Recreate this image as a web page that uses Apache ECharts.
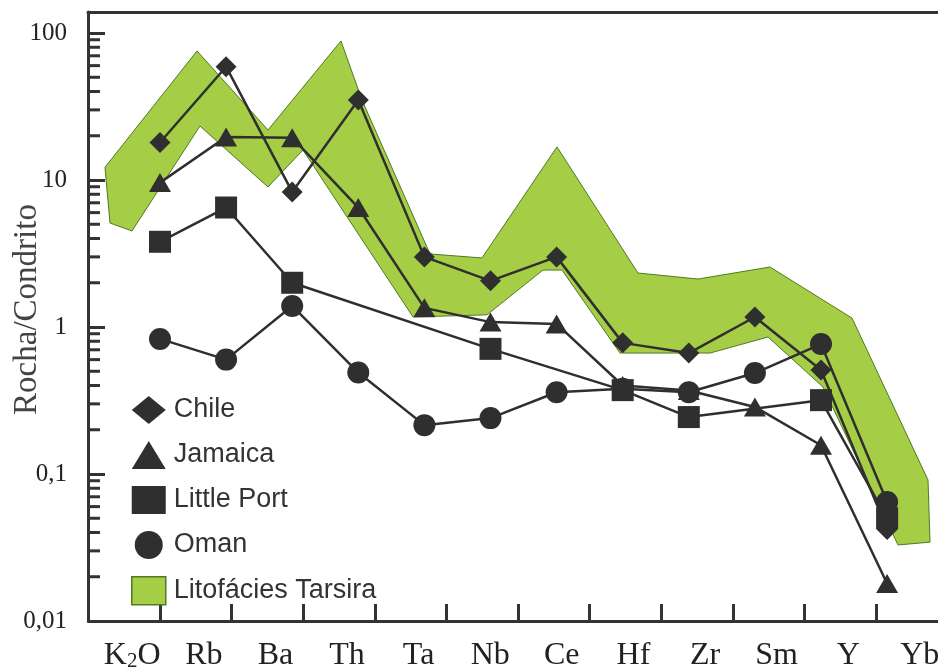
<!DOCTYPE html>
<html><head><meta charset="utf-8">
<script src="https://cdn.jsdelivr.net/npm/echarts@6/dist/echarts.min.js"></script>
<style>html,body{margin:0;padding:0;background:#fff}#c{width:938px;height:671px}</style>
</head><body><div id="c"></div>
<script>
// ---- data ----
const categories = ['K2O', 'Rb', 'Ba', 'Th', 'Ta', 'Nb', 'Ce', 'Hf', 'Zr', 'Sm', 'Y', 'Yb'];
const chile      = [18, 59, 8.3, 35, 3.0, 2.06, 3.0, 0.78, 0.665, 1.17, 0.51, 0.042];
const jamaica    = [9.6, 19.6, 19.4, 6.5, 1.35, 1.08, 1.05, 0.40, 0.37, 0.286, 0.157, 0.018];
const littlePort = [3.8, 6.5, 2.0, null, null, 0.71, null, 0.372, 0.244, null, 0.318, 0.050];
const oman       = [0.83, 0.60, 1.39, 0.49, 0.215, 0.24, 0.36, 0.38, 0.36, 0.486, 0.766, 0.0645];
// Litofácies Tarsira envelope (x in element-index units, y = rock/chondrite)
const bandUpperX = [-0.832, 0.560, 1.634, 2.738, 3.056, 4.085, 4.871, 6.006, 7.231, 8.139, 9.228, 10.469, 11.619, 11.649];
const bandUpperY = [12.2, 75.5, 21.9, 88.3, 35.0, 3.14, 2.95, 16.8, 2.33, 2.12, 2.56, 1.15, 0.091, 0.0344];
const bandLowerX = [-0.756, -0.424, 0.605, 1.634, 2.163, 3.828, 4.947, 5.794, 6.082, 6.959, 8.321, 9.198, 10.030, 11.165];
const bandLowerY = [5.10, 4.50, 23.3, 8.96, 16.0, 1.17, 1.21, 2.44, 2.44, 0.665, 0.665, 0.855, 0.391, 0.0329];
// axis ticks
const yTickValues = [0.01, 0.1, 1, 10, 100];
const yTickLabels = ['0,01', '0,1', '1', '10', '100'];
const yMinorDecades = [0.01, 0.1, 1, 10];
const yMinorMultipliers = [2, 3, 4, 5, 6, 7, 8, 9];

// ---- chart ----
const INK = '#2f2f2f';
const AX = '#333';
const GREEN = '#a5cd45';
const GREEN_EDGE = '#4f7a26';

const minorValues = [];
yMinorDecades.forEach(d => yMinorMultipliers.forEach(m => minorValues.push([0, d * m])));

function lineSeries(name, values, symbol, size) {
  return {
    type: 'line', name: name, xAxisIndex: 0, yAxisIndex: 0,
    data: values.map((v, i) => [i, v == null ? '-' : v]),
    connectNulls: true, symbol: symbol, symbolSize: size, showAllSymbol: true,
    lineStyle: { color: INK, width: 2.5 },
    itemStyle: { color: INK },
    emphasis: { disabled: true },
    z: 2
  };
}

const chart = echarts.init(document.getElementById('c'), null, { renderer: 'canvas' });
chart.setOption({
  animation: false,
  backgroundColor: '#fff',
  grid: [
    { left: 88, right: 0, top: 12, bottom: 50, outerBoundsMode: 'none', containLabel: false },
    { left: 88.4, right: -9.6, top: 12, bottom: 50, outerBoundsMode: 'none', containLabel: false }
  ],
  xAxis: [
    {
      gridIndex: 0, type: 'value', min: -1.089, max: 11.77, position: 'top',
      axisLine: { show: true, onZero: false, lineStyle: { color: AX, width: 3 } },
      axisTick: { show: false }, axisLabel: { show: false }, splitLine: { show: false }
    },
    {
      gridIndex: 1, type: 'category', data: categories, boundaryGap: true, position: 'bottom',
      axisLine: { show: true, onZero: false, lineStyle: { color: AX, width: 3 } },
      axisTick: { show: true, inside: true, length: 17, lineStyle: { color: AX, width: 3 } },
      axisLabel: {
        interval: 0, fontFamily: 'Liberation Serif', fontSize: 32, color: '#222', margin: 19,
        padding: [0, 0, 0, 16],
        formatter: v => v === 'K2O' ? 'K{sub|2}O' : v,
        rich: { sub: { fontFamily: 'Liberation Serif', fontSize: 21, color: '#222', verticalAlign: 'bottom' } }
      },
      splitLine: { show: false }
    }
  ],
  yAxis: [
    {
      gridIndex: 0, type: 'log', logBase: 10, min: 0.01, max: 139,
      axisLine: { show: true, onZero: false, lineStyle: { color: AX, width: 3 } },
      axisTick: { show: true, inside: true, length: 17, lineStyle: { color: AX, width: 3 } },
      axisLabel: {
        fontFamily: 'Liberation Serif', fontSize: 25, color: '#222', margin: 21,
        formatter: v => {
          for (let i = 0; i < yTickValues.length; i++) {
            if (Math.abs(Math.log10(v) - Math.log10(yTickValues[i])) < 1e-6) return yTickLabels[i];
          }
          return '';
        }
      },
      splitLine: { show: false },
      name: 'Rocha/Condrito', nameLocation: 'middle', nameRotate: 90, nameGap: 44,
      nameMoveOverlap: false,
      nameTextStyle: { fontFamily: 'Liberation Serif', fontSize: 33, color: '#444', padding: [0, 0, 0, 14] }
    },
    { gridIndex: 1, type: 'value', show: false }
  ],
  legend: {
    data: [
      { name: 'Chile', icon: 'diamond' },
      { name: 'Jamaica', icon: 'triangle' },
      { name: 'Little Port', icon: 'rect' },
      { name: 'Oman', icon: 'circle' },
      { name: 'Litofácies Tarsira', icon: 'rect', itemStyle: { color: GREEN, borderColor: GREEN_EDGE, borderWidth: 1.5 } }
    ],
    orient: 'vertical', left: 126, top: 391, itemWidth: 34, itemHeight: 28, itemGap: 17,
    selectedMode: false,
    textStyle: { fontFamily: 'Liberation Sans', fontSize: 27, color: '#333', padding: [0, 0, 0, 3] }
  },
  series: [
    {
      type: 'custom', name: 'Litofácies Tarsira', xAxisIndex: 0, yAxisIndex: 0,
      data: [[0, 1]], silent: true, z: 1,
      itemStyle: { color: GREEN },
      renderItem: (params, api) => {
        const pts = [];
        for (let i = 0; i < bandUpperX.length; i++) pts.push(api.coord([bandUpperX[i], bandUpperY[i]]));
        for (let i = bandLowerX.length - 1; i >= 0; i--) pts.push(api.coord([bandLowerX[i], bandLowerY[i]]));
        return { type: 'polygon', shape: { points: pts }, style: { fill: GREEN, stroke: GREEN_EDGE, lineWidth: 1 } };
      }
    },
    {
      type: 'custom', name: 'minor-ticks', xAxisIndex: 0, yAxisIndex: 0,
      data: minorValues, silent: true, z: 3,
      renderItem: (params, api) => {
        const y = api.coord([0, api.value(1)])[1];
        const x = params.coordSys.x;
        return { type: 'line', shape: { x1: x, y1: y, x2: x + 12, y2: y }, style: { stroke: AX, lineWidth: 3 } };
      }
    },
    lineSeries('Jamaica', jamaica, 'triangle', [22, 19]),
    lineSeries('Oman', oman, 'circle', 22),
    lineSeries('Little Port', littlePort, 'rect', 22),
    lineSeries('Chile', chile, 'diamond', 21)
  ]
});
</script>
</body></html>
